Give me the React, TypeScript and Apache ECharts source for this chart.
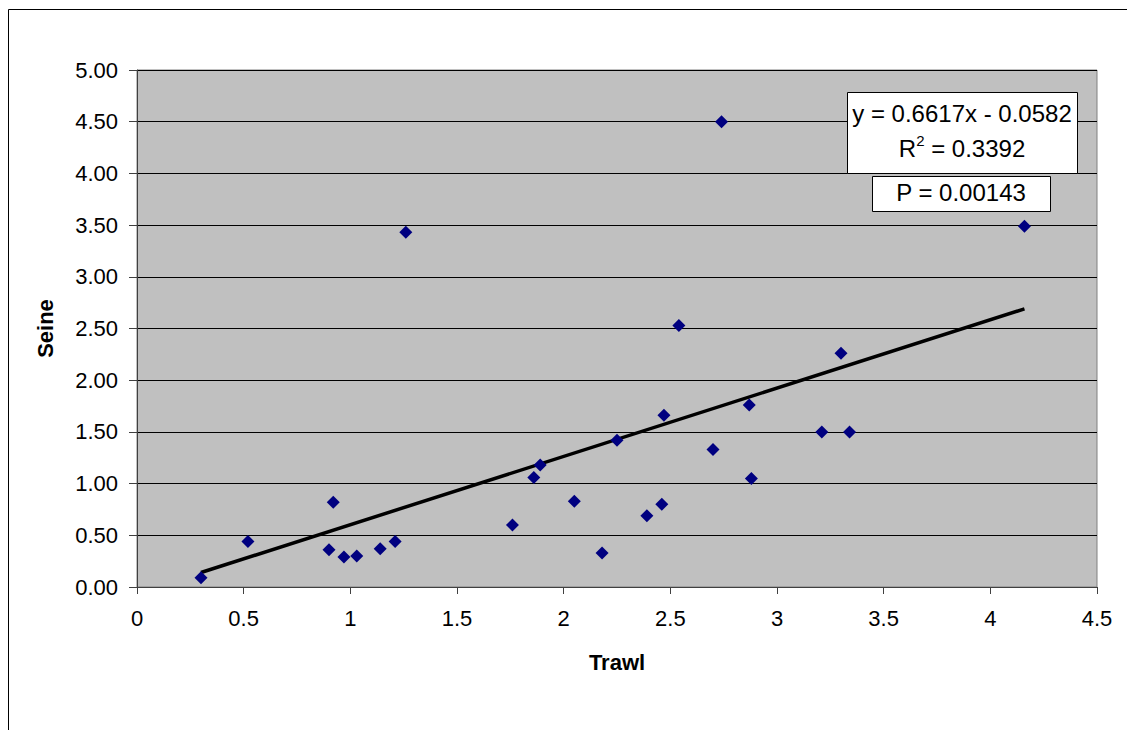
import React, { useEffect, useRef } from "react";
import * as echarts from "echarts";

const trawl = [0.30, 0.52, 0.90, 0.92, 0.97, 1.03, 1.14, 1.21, 1.26, 1.76, 1.86, 1.89, 2.05, 2.18, 2.25, 2.39, 2.46, 2.47, 2.54, 2.70, 2.74, 2.87, 2.88, 3.21, 3.30, 3.34, 4.16];
const seine = [0.09, 0.44, 0.36, 0.82, 0.29, 0.30, 0.37, 0.44, 3.43, 0.60, 1.06, 1.18, 0.83, 0.33, 1.42, 0.69, 0.80, 1.66, 2.53, 1.33, 4.50, 1.76, 1.05, 1.50, 2.26, 1.50, 3.49];
const trendX = [0.30, 4.16];
const trendY = [0.14, 2.69];
const equationText = "y = 0.6617x - 0.0582";
const r2Value = "0.3392";
const pText = "P = 0.00143";
const xName = "Trawl";
const yName = "Seine";

const FONT = "'Liberation Sans', Arial, sans-serif";

export default function App() {
  const ref = useRef<HTMLDivElement>(null);
  useEffect(() => {
    if (!ref.current) return;
    const chart = echarts.init(ref.current, undefined, { renderer: "svg" });
    const points = trawl.map((x, i) => [x, seine[i]]);
    const trend = trendX.map((x, i) => [x, trendY[i]]);
    chart.setOption({
      animation: false,
      backgroundColor: "#ffffff",
      textStyle: { fontFamily: FONT },
      grid: {
        left: 129,
        top: 62,
        width: 960,
        height: 517,
        show: true,
        backgroundColor: "#c0c0c0",
        borderColor: "#808080",
        borderWidth: 1,
      },
      xAxis: {
        type: "value",
        min: 0,
        max: 4.5,
        interval: 0.5,
        name: xName,
        nameLocation: "middle",
        nameGap: 64,
        nameTextStyle: { fontSize: 22, fontWeight: "bold", color: "#000", fontFamily: FONT },
        axisLine: { show: true, onZero: false, lineStyle: { color: "#404040", width: 1 } },
        axisTick: { show: true, length: 7, inside: false, lineStyle: { color: "#404040" } },
        axisLabel: { fontSize: 22, color: "#000", margin: 20, fontFamily: FONT },
        splitLine: { show: false },
      },
      yAxis: {
        type: "value",
        min: 0,
        max: 5,
        interval: 0.5,
        name: yName,
        nameLocation: "middle",
        nameGap: 81,
        nameTextStyle: { fontSize: 22, fontWeight: "bold", color: "#000", fontFamily: FONT },
        axisLine: { show: true, onZero: false, lineStyle: { color: "#404040", width: 1 } },
        axisTick: { show: true, length: 8, inside: false, lineStyle: { color: "#404040" } },
        axisLabel: {
          fontSize: 22,
          color: "#000",
          margin: 19,
          fontFamily: FONT,
          formatter: (v: number) => v.toFixed(2),
        },
        splitLine: { show: true, lineStyle: { color: "#000", width: 1 } },
      },
      series: [
        {
          type: "scatter",
          data: points,
          symbol: "diamond",
          symbolSize: 13,
          itemStyle: { color: "#000080", opacity: 1 },
          z: 3,
        },
        {
          type: "line",
          data: trend,
          symbol: "none",
          lineStyle: { color: "#000", width: 3.5 },
          z: 2,
        },
      ],
      graphic: [
        {
          type: "rect",
          shape: { x: 0.5, y: 1.5, width: 1400, height: 1000 },
          style: { fill: "none", stroke: "#000", lineWidth: 1 },
          silent: true,
          z: -10,
        },
        {
          type: "rect",
          shape: { x: 839.5, y: 84.5, width: 230, height: 81 },
          style: { fill: "#fff", stroke: "#000", lineWidth: 1 },
          z: 10,
        },
        {
          type: "text",
          x: 954,
          y: 105,
          style: {
            text: equationText,
            fontSize: 24,
            fontFamily: FONT,
            fill: "#000",
            align: "center",
            verticalAlign: "middle",
          },
          z: 11,
        },
        {
          type: "text",
          x: 954,
          y: 138,
          style: {
            text: "{n|R}{s|2}{n| = " + r2Value + "}",
            fontFamily: FONT,
            fill: "#000",
            align: "center",
            verticalAlign: "middle",
            rich: {
              n: { fontSize: 24, fontFamily: FONT, fill: "#000", lineHeight: 28, verticalAlign: "bottom" },
              s: { fontSize: 15, fontFamily: FONT, fill: "#000", lineHeight: 28, verticalAlign: "top", padding: [1, 0, 0, 0] },
            },
          },
          z: 11,
        },
        {
          type: "rect",
          shape: { x: 864.5, y: 168.5, width: 178, height: 35 },
          style: { fill: "#fff", stroke: "#000", lineWidth: 1 },
          z: 10,
        },
        {
          type: "text",
          x: 953,
          y: 184,
          style: {
            text: pText,
            fontSize: 24,
            fontFamily: FONT,
            fill: "#000",
            align: "center",
            verticalAlign: "middle",
          },
          z: 11,
        },
      ],
    });
    return () => chart.dispose();
  }, []);
  return <div ref={ref} style={{ width: 1127, height: 722 }} />;
}
